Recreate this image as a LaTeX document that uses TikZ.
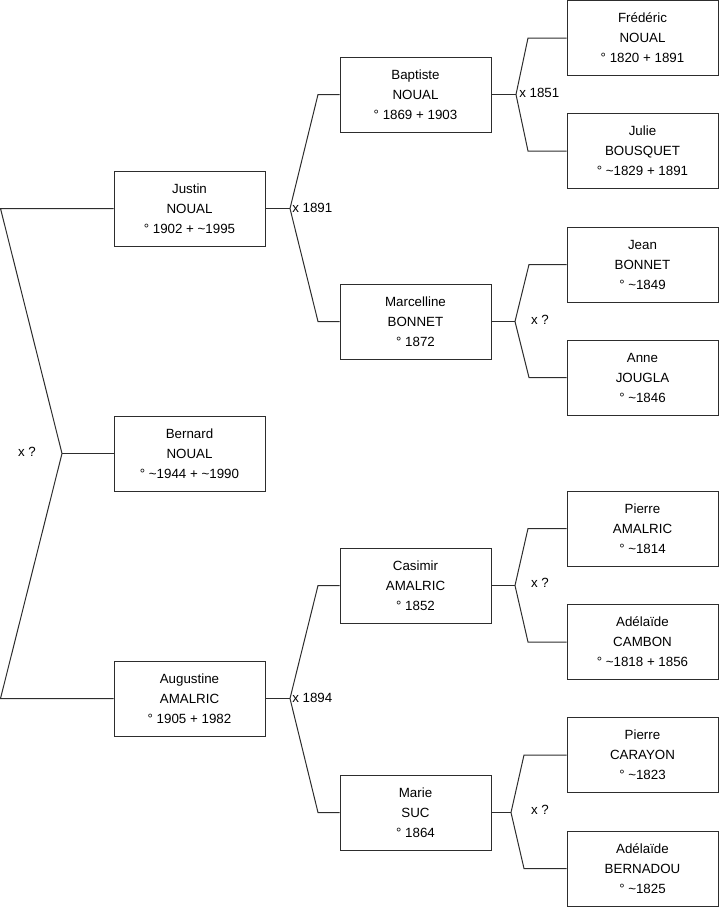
\documentclass[tikz,border=0pt]{standalone}
\usepackage{fontspec}
\setmainfont{Liberation Sans}
\definecolor{ln}{RGB}{45,45,45}
\begin{document}
\begin{tikzpicture}[x=0.75pt,y=-0.75pt,
  person/.style={draw=ln,line width=0.75pt,fill=white,minimum width=113.25pt,minimum height=56.25pt,inner sep=0pt,align=center,font=\fontsize{10}{15}\selectfont},
  link/.style={draw=ln,line width=0.75pt},
  lab/.style={font=\fontsize{10}{12}\selectfont,inner sep=0pt}]
\useasboundingbox (0,0) rectangle (719,908);
% generation 1
\node[person] (justin) at (189.5,208.5) {Justin\\NOUAL\\° 1902 + \textasciitilde1995};
\node[person] (bernard) at (189.5,453.5) {Bernard\\NOUAL\\° \textasciitilde1944 + \textasciitilde1990};
\node[person] (augustine) at (189.5,698.5) {Augustine\\AMALRIC\\° 1905 + 1982};
% generation 2
\node[person] (baptiste) at (415.5,94.5) {Baptiste\\NOUAL\\° 1869 + 1903};
\node[person] (marcelline) at (415.5,321.5) {Marcelline\\BONNET\\° 1872};
\node[person] (casimir) at (415.5,585.5) {Casimir\\AMALRIC\\° 1852};
\node[person] (marie) at (415.5,812.5) {Marie\\SUC\\° 1864};
% generation 3
\node[person] (frederic) at (642.5,38) {Frédéric\\NOUAL\\° 1820 + 1891};
\node[person] (julie) at (642.5,151) {Julie\\BOUSQUET\\° \textasciitilde1829 + 1891};
\node[person] (jean) at (642.5,264.5) {Jean\\BONNET\\° \textasciitilde1849};
\node[person] (anne) at (642.5,377.5) {Anne\\JOUGLA\\° \textasciitilde1846};
\node[person] (pierre) at (642.5,528.5) {Pierre\\AMALRIC\\° \textasciitilde1814};
\node[person] (adelaide) at (642.5,642) {Adélaïde\\CAMBON\\° \textasciitilde1818 + 1856};
\node[person] (pierrec) at (642.5,755) {Pierre\\CARAYON\\° \textasciitilde1823};
\node[person] (adelaideb) at (642.5,868.5) {Adélaïde\\BERNADOU\\° \textasciitilde1825};
% root fork
\coordinate (r) at (62,453.5);
\coordinate (rt) at (0.5,208.5);
\coordinate (rb) at (0.5,698.5);
\draw[link] (justin.west) -- (rt) -- (r) -- (rb) -- (augustine.west);
\draw[link] (r) -- (bernard.west);
\node[lab] (l0) at (27,452) {x ?};
% Justin fork
\coordinate (j) at (290,208.5);
\coordinate (jt) at (318,94.5);
\coordinate (jb) at (318,321.5);
\draw[link] (justin.east) -- (j);
\draw[link] (baptiste.west) -- (jt) -- (j) -- (jb) -- (marcelline.west);
\node[lab,anchor=west] (l1) at (292,208) {x 1891};
% Augustine fork
\coordinate (a) at (290,698.5);
\coordinate (at) at (318,585.5);
\coordinate (ab) at (318,812.5);
\draw[link] (augustine.east) -- (a);
\draw[link] (casimir.west) -- (at) -- (a) -- (ab) -- (marie.west);
\node[lab,anchor=west] (l2) at (292,698) {x 1894};
% Baptiste fork
\coordinate (b) at (516,94.5);
\coordinate (bt) at (528,38);
\coordinate (bb) at (528,151);
\draw[link] (baptiste.east) -- (b);
\draw[link] (frederic.west) -- (bt) -- (b) -- (bb) -- (julie.west);
\node[lab,anchor=west] (l3) at (519,93) {x 1851};
% Marcelline fork
\coordinate (m) at (515,321.5);
\coordinate (mt) at (529,264.5);
\coordinate (mb) at (529,377.5);
\draw[link] (marcelline.east) -- (m);
\draw[link] (jean.west) -- (mt) -- (m) -- (mb) -- (anne.west);
\node[lab] (l4) at (540,320) {x ?};
% Casimir fork
\coordinate (c) at (515,585.5);
\coordinate (ct) at (528,528.5);
\coordinate (cb) at (528,642);
\draw[link] (casimir.east) -- (c);
\draw[link] (pierre.west) -- (ct) -- (c) -- (cb) -- (adelaide.west);
\node[lab] (l5) at (540,583) {x ?};
% Marie fork
\coordinate (s) at (511,812.5);
\coordinate (st) at (524,755);
\coordinate (sb) at (524,868.5);
\draw[link] (marie.east) -- (s);
\draw[link] (pierrec.west) -- (st) -- (s) -- (sb) -- (adelaideb.west);
\node[lab] (l6) at (540,810) {x ?};
\end{tikzpicture}
\end{document}
